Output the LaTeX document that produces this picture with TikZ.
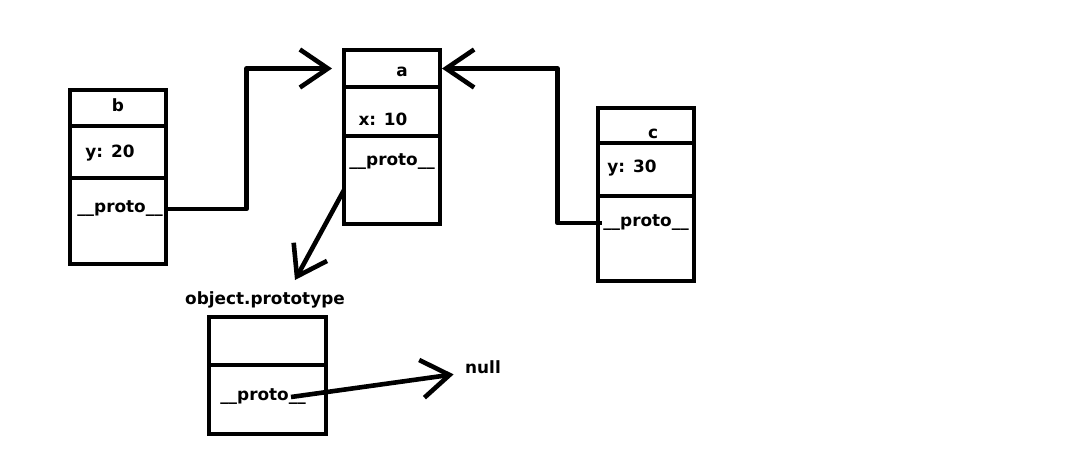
\documentclass[tikz,border=0pt]{standalone}
\usepackage{fontspec}
\setmainfont{DejaVu Sans}
\usetikzlibrary{arrows.meta,positioning}
\tikzset{>/.tip={Straight Barb[length=0.7cm,width=0.95cm]}}
\tikzset{cell/.style={draw,line width=0.115cm,inner sep=0pt,outer sep=0pt,anchor=north west,minimum width=2.4cm}}
\tikzset{txt/.style={font=\bfseries\fontsize{12}{14}\selectfont,inner sep=1pt}}
\begin{document}
\begin{tikzpicture}[x=0.025cm,y=-0.025cm,node distance=0pt]
        \useasboundingbox (0,0) rectangle (1076,448);
        % b
        \node(b)[cell,minimum height=0.9cm] at (70,90){};
        \node(b-y)[cell,minimum height=1.3cm,below=of b]{};
        \node(b-p)[cell,minimum height=2.15cm,below=of b-y]{};
        \node(bl)[txt] at (118,105){b};
        \node(byl)[txt] at (110,153){y: 20};
        \node(bpl)[txt] at (120,209){\_\_proto\_\_};
        % a
        \node(a)[cell,minimum height=0.925cm] at (344,50){};
        \node(a-x)[cell,minimum height=1.225cm,below=of a]{};
        \node(a-p)[cell,minimum height=2.2cm,below=of a-x]{};
        \node(al)[txt] at (402,72){a};
        \node(axl)[txt] at (383,119){x: 10};
        \node(apl)[txt] at (392,162){\_\_proto\_\_};
        % c
        \node(c)[cell,minimum height=0.875cm] at (598,108){};
        \node(c-y)[cell,minimum height=1.325cm,below=of c]{};
        \node(c-p)[cell,minimum height=2.125cm,below=of c-y]{};
        \node(cl)[txt] at (653,134){c};
        \node(cyl)[txt] at (632,168){y: 30};
        \node(cpl)[txt] at (646,223){\_\_proto\_\_};
        % object.prototype
        \node(o)[cell,minimum width=2.925cm,minimum height=1.2cm] at (209,317){};
        \node(o-p)[cell,minimum width=2.925cm,minimum height=1.725cm,below=of o]{};
        \node(ol)[txt] at (265,300){object.prototype};
        \node(opl)[txt] at (263,397){\_\_proto\_\_};
        \node(null)[txt] at (483,367){null};
        \coordinate(otip) at (295,280);
        % links
        \begin{scope}[line width=0.115cm,line join=round]
          \draw[->,shorten >=0.3cm] (bpl.east) -- ++(82,0) |- (a.west);
          \draw[->,shorten >=0.05cm] (cpl.west) -- ++(-44,0) |- (a.east);
          \draw[->] ([yshift=-0.25cm]a-p.west) -- (otip);
          \draw[->,shorten >=0.25cm] ([xshift=0.7cm]opl.center) -- ([yshift=-0.15cm]null.west);
        \end{scope}
      \end{tikzpicture}
\end{document}
